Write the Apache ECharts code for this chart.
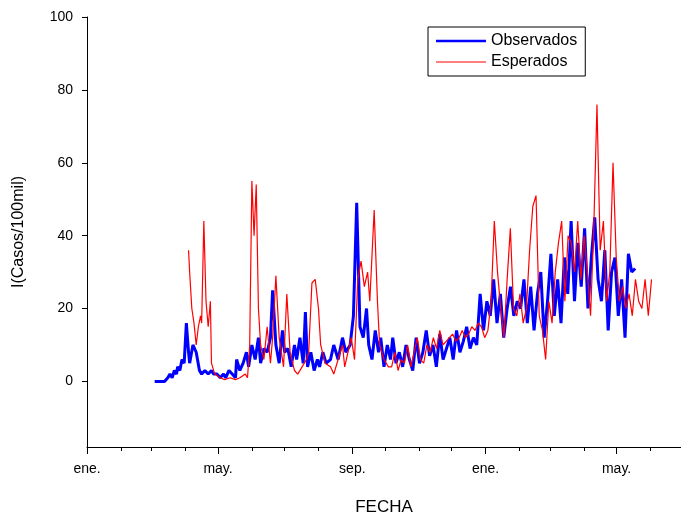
<!DOCTYPE html>
<html lang="es">
<head>
<meta charset="UTF-8">
<title>Casos</title>
<script src="https://cdn.jsdelivr.net/npm/echarts@6/dist/echarts.min.js"></script>
<style>
html, body { margin: 0; padding: 0; background: #fff; }
#main { width: 681px; height: 521px; }
</style>
</head>
<body>
<div id="main"></div>
<script>
// eje x: dias desde el 1 de ene. del primer año
var blueHeadDays = [62,67,71,74,76,78,80,82,83,85,87,89,91,93,94,97,100,103,105,108,111,114,116,119,122,125,127,130,133,136,137,140,143,146,148,151,154,157,159,162,165,168,170,173,176,179,181,184,187,190,192,195,198,200,202,205,208,211,213,216,219,223,226,230,234,237,241,244,247,250,253,256,258,261,264,267,269,272,275,278,280,283];
var blueHeadVals = [0,0,0,1,2,1,3,2,4,3,6,5,16,8,5,10,8,3,2,3,2,3,2,2,1,2,1,3,2,1,6,3,5,8,4,10,6,12,5,9,8,12,25,10,5,14,8,9,4,10,6,12,5,19,4,8,3,6,4,8,5,6,10,6,12,8,10,18,49,15,12,20,10,6,14,8,12,4,10,6,12,5];
var blueTailStart = 286, blueTailEnd = 502;
var blueTailVals = [8,4,10,6,3,12,5,8,14,7,10,4,13,6,9,
  12,6,14,8,11,15,9,12,10,
  24,14,22,18,28,16,24,12,20,26,18,22,
  20,28,16,26,14,24,30,12,22,35,18,28,
  16,34,24,44,22,38,26,42,20,34,45,28,
  22,36,14,30,34,18,28,12,35,30,31];

var redHeadDays = [93,94,96,98,100,102,104,105,107,109,111,113,114,117,122,126,131,136,140,145,147,149,151,153,155,157,159,162,165,168,170,173,176,180,183,186,190,193,197,201,203,206,209,212,214,218,223,226,230,234,236,239,242,245,248,251,254,257,259,263,266,268,272,276];
var redHeadVals = [36,30,20,16,10,15,18,16,44,22,15,22,5,2,1,0.5,1,0.5,1,2,1,10,55,40,54,20,10,6,15,5,12,29,12,4,24,8,3,2,4,6,8,27,28,20,10,5,4,2,6,10,4,8,12,6,28,33,26,30,22,47,22,10,6,4];
var redTailStart = 279, redTailEnd = 517;
var redTailVals = [4,8,3,6,5,10,4,8,12,6,5,10,8,12,9,14,10,11,12,13,11,12,14,12,13,15,14,16,15,12,
  14,22,44,30,20,12,28,42,20,18,24,16,
  20,36,48,51,18,14,6,22,16,30,38,44,
  22,40,38,30,44,28,40,30,18,42,76,36,
  44,22,30,60,34,22,26,20,24,18,28,22,20,28,18,28];

var monthStarts = [0,31,59,90,120,151,181,212,243,273,304,334,365,396,424,455,485,516];
var majorTicks = [0,120,243,365,485];
var majorNames = {0:'ene.',120:'may.',243:'sep.',365:'ene.',485:'may.'};
var yTicks = [0,20,40,60,80,100];

function buildSeries(days, vals, tailVals, t0, t1) {
  var out = days.map(function (d, i) { return [d, vals[i]]; });
  var step = (t1 - t0) / (tailVals.length - 1);
  tailVals.forEach(function (v, i) { out.push([t0 + i * step, v]); });
  return out;
}

var chart = echarts.init(document.getElementById('main'));
var font = 'Liberation Sans, Arial, sans-serif';
chart.setOption({
  animation: false,
  grid: { left: 87, right: 0, top: 17, bottom: 72 },
  legend: {
    orient: 'vertical', left: 428, top: 27,
    borderColor: '#000', borderWidth: 1, padding: [6, 8, 6, 8],
    itemWidth: 50, itemGap: 5, itemHeight: 10,
    textStyle: { fontFamily: font, fontSize: 16, color: '#000' },
    data: [
      { name: 'Observados', icon: 'path://M0,4H50V6.5H0Z' },
      { name: 'Esperados', icon: 'path://M0,4.5H50V5.5H0Z' }
    ]
  },
  xAxis: [{
    type: 'value', min: 0, max: 544,
    name: 'FECHA', nameLocation: 'middle', nameGap: 52,
    nameTextStyle: { fontFamily: font, fontSize: 17, color: '#000' },
    axisLine: { onZero: false, lineStyle: { color: '#000' } },
    axisTick: { length: 4, customValues: monthStarts, lineStyle: { color: '#000' } },
    axisLabel: { customValues: majorTicks, margin: 15, fontFamily: font, fontSize: 14, color: '#000',
      formatter: function (v) { return majorNames[v] || ''; } },
    splitLine: { show: false }
  }, {
    type: 'value', min: 0, max: 544, position: 'bottom',
    axisLine: { show: false, onZero: false },
    axisTick: { length: 7, customValues: majorTicks, lineStyle: { color: '#000' } },
    axisLabel: { show: false },
    splitLine: { show: false }
  }],
  yAxis: {
    type: 'value', min: -18, max: 100,
    name: 'I(Casos/100mil)', nameLocation: 'middle', nameGap: 60,
    nameTextStyle: { fontFamily: font, fontSize: 16, color: '#000' },
    axisLine: { show: true, lineStyle: { color: '#000' } },
    axisTick: { show: true, length: 5, customValues: yTicks, lineStyle: { color: '#000' } },
    axisLabel: { customValues: yTicks, margin: 14, fontFamily: font, fontSize: 14, color: '#000' },
    splitLine: { show: false }
  },
  series: [{
    name: 'Observados', type: 'line', showSymbol: false, symbol: 'none',
    color: '#0000ff', lineStyle: { width: 3, color: '#0000ff' },
    data: buildSeries(blueHeadDays, blueHeadVals, blueTailVals, blueTailStart, blueTailEnd), z: 3
  }, {
    name: 'Esperados', type: 'line', showSymbol: false, symbol: 'none',
    color: '#ff0000', lineStyle: { width: 1.2, color: '#ff0000' },
    data: buildSeries(redHeadDays, redHeadVals, redTailVals, redTailStart, redTailEnd), z: 4
  }]
});
</script>
</body>
</html>
